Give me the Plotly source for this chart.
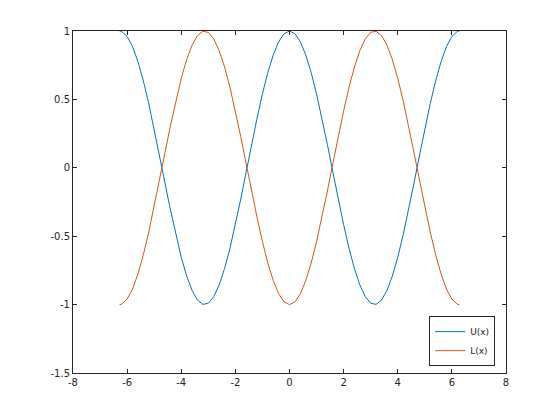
import plotly.graph_objects as go

x_vals = [-6.28, -6.2, -6.0, -5.8, -5.6, -5.4, -5.2, -5.0, -4.8, -4.6, -4.4, -4.2, -4.0,
          -3.8, -3.6, -3.4, -3.2, -3.0, -2.8, -2.6, -2.4, -2.2, -2.0, -1.8, -1.6, -1.4,
          -1.2, -1.0, -0.8, -0.6, -0.4, -0.2, 0.0, 0.2, 0.4, 0.6, 0.8, 1.0, 1.2, 1.4,
          1.6, 1.8, 2.0, 2.2, 2.4, 2.6, 2.8, 3.0, 3.2, 3.4, 3.6, 3.8, 4.0, 4.2, 4.4,
          4.6, 4.8, 5.0, 5.2, 5.4, 5.6, 5.8, 6.0, 6.2, 6.28]

u_vals = [1.000, 0.997, 0.960, 0.886, 0.776, 0.635, 0.469, 0.284, 0.087, -0.112, -0.307,
          -0.490, -0.654, -0.791, -0.897, -0.967, -0.998, -0.990, -0.942, -0.857, -0.737,
          -0.589, -0.416, -0.227, -0.029, 0.170, 0.362, 0.540, 0.697, 0.825, 0.921, 0.980,
          1.000, 0.980, 0.921, 0.825, 0.697, 0.540, 0.362, 0.170, -0.029, -0.227, -0.416,
          -0.589, -0.737, -0.857, -0.942, -0.990, -0.998, -0.967, -0.897, -0.791, -0.654,
          -0.490, -0.307, -0.112, 0.087, 0.284, 0.469, 0.635, 0.776, 0.886, 0.960, 0.997,
          1.000]

l_vals = [-1.000, -0.997, -0.960, -0.886, -0.776, -0.635, -0.469, -0.284, -0.087, 0.112,
          0.307, 0.490, 0.654, 0.791, 0.897, 0.967, 0.998, 0.990, 0.942, 0.857, 0.737,
          0.589, 0.416, 0.227, 0.029, -0.170, -0.362, -0.540, -0.697, -0.825, -0.921,
          -0.980, -1.000, -0.980, -0.921, -0.825, -0.697, -0.540, -0.362, -0.170, 0.029,
          0.227, 0.416, 0.589, 0.737, 0.857, 0.942, 0.990, 0.998, 0.967, 0.897, 0.791,
          0.654, 0.490, 0.307, 0.112, -0.087, -0.284, -0.469, -0.635, -0.776, -0.886,
          -0.960, -0.997, -1.000]

x_ticks = [-8, -6, -4, -2, 0, 2, 4, 6, 8]
x_tick_labels = ["-8", "-6", "-4", "-2", "0", "2", "4", "6", "8"]
y_ticks = [-1.5, -1, -0.5, 0, 0.5, 1]
y_tick_labels = ["-1.5", "-1", "-0.5", "0", "0.5", "1"]

axis_color = "#262626"

fig = go.Figure()
fig.add_trace(go.Scatter(x=x_vals, y=u_vals, mode="lines", name="U(x)",
                         line=dict(color="#0072BD", width=1)))
fig.add_trace(go.Scatter(x=x_vals, y=l_vals, mode="lines", name="L(x)",
                         line=dict(color="#D95319", width=1)))

axis_common = dict(showline=True, linecolor=axis_color, linewidth=1, mirror="ticks",
                   ticks="inside", ticklen=4, tickcolor=axis_color, showgrid=False,
                   zeroline=False, tickfont=dict(family="DejaVu Sans", size=10, color=axis_color))

fig.update_xaxes(range=[-8, 8], tickmode="array", tickvals=x_ticks, ticktext=x_tick_labels,
                 **axis_common)
fig.update_yaxes(range=[-1.5, 1], tickmode="array", tickvals=y_ticks, ticktext=y_tick_labels,
                 **axis_common)

fig.update_layout(
    width=560, height=420,
    margin=dict(l=65, r=62, t=23, b=55),
    paper_bgcolor="white", plot_bgcolor="white",
    showlegend=True,
    legend=dict(x=0.975, xanchor="right", y=0.02, yanchor="bottom",
                bordercolor=axis_color, borderwidth=1, bgcolor="white",
                font=dict(family="DejaVu Sans", size=9, color=axis_color),
                tracegroupgap=0, itemwidth=30),
)

fig.write_html("out.html")
